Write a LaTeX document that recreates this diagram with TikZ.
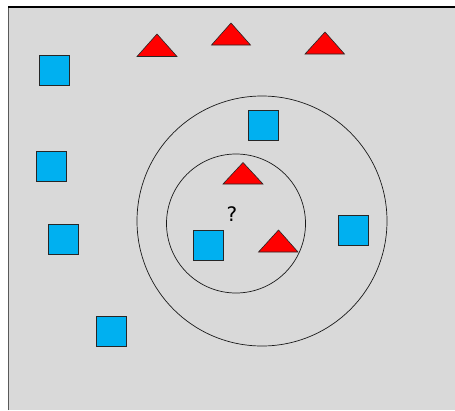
\documentclass[tikz,border=0pt]{standalone}
\usepackage{fontspec}
\setmainfont{DejaVu Sans}
\begin{document}
\begin{tikzpicture}[x=1pt,y=-1pt,
  sq/.style={draw=black!85,line width=0.9pt,fill=cyan2,minimum size=30pt,inner sep=0pt,outer sep=0pt},
  tri/.style={draw=black!85,line width=0.6pt,fill=red,line join=miter},
  ring/.style={draw=black!90,line width=0.7pt}]
\definecolor{cyan2}{HTML}{00B0F0}
\definecolor{bg}{HTML}{D9D9D9}
\useasboundingbox (0,0) rectangle (455,410);
\fill[bg] (8.5,7) rectangle (455,410);
\draw[black!65,line width=1.2pt] (8.5,410) -- (8.5,7);
\draw[black,line width=1.2pt] (8,7) -- (455,7);
% circles
\draw[ring] (262,221) circle (125);
\draw[ring] (236,223.5) circle (69.5);
% squares
\node[sq] (s1) at (54.5,70) {};
\node[sq] (s2) at (51.5,166.7) {};
\node[sq] (s3) at (63.7,239.3) {};
\node[sq] (s4) at (111,331) {};
\node[sq] (s5) at (263,125.7) {};
\node[sq] (s6) at (353.8,230) {};
\node[sq] (s7) at (208.5,245) {};
% triangles
\path[tri] (137,56.5) -- (157,34) -- (177,56.5) -- cycle;
\path[tri] (211.5,45) -- (231,23) -- (250.5,45) -- cycle;
\path[tri] (305,54) -- (325,32) -- (344.5,54) -- cycle;
\path[tri] (223,184) -- (243,162.5) -- (263,184) -- cycle;
\path[tri] (258.5,252) -- (278.5,230) -- (298,252) -- cycle;
% label
\node[font=\fontsize{20}{24}\selectfont,inner sep=0pt] (q) at (232,214) {?};
\end{tikzpicture}
\end{document}
